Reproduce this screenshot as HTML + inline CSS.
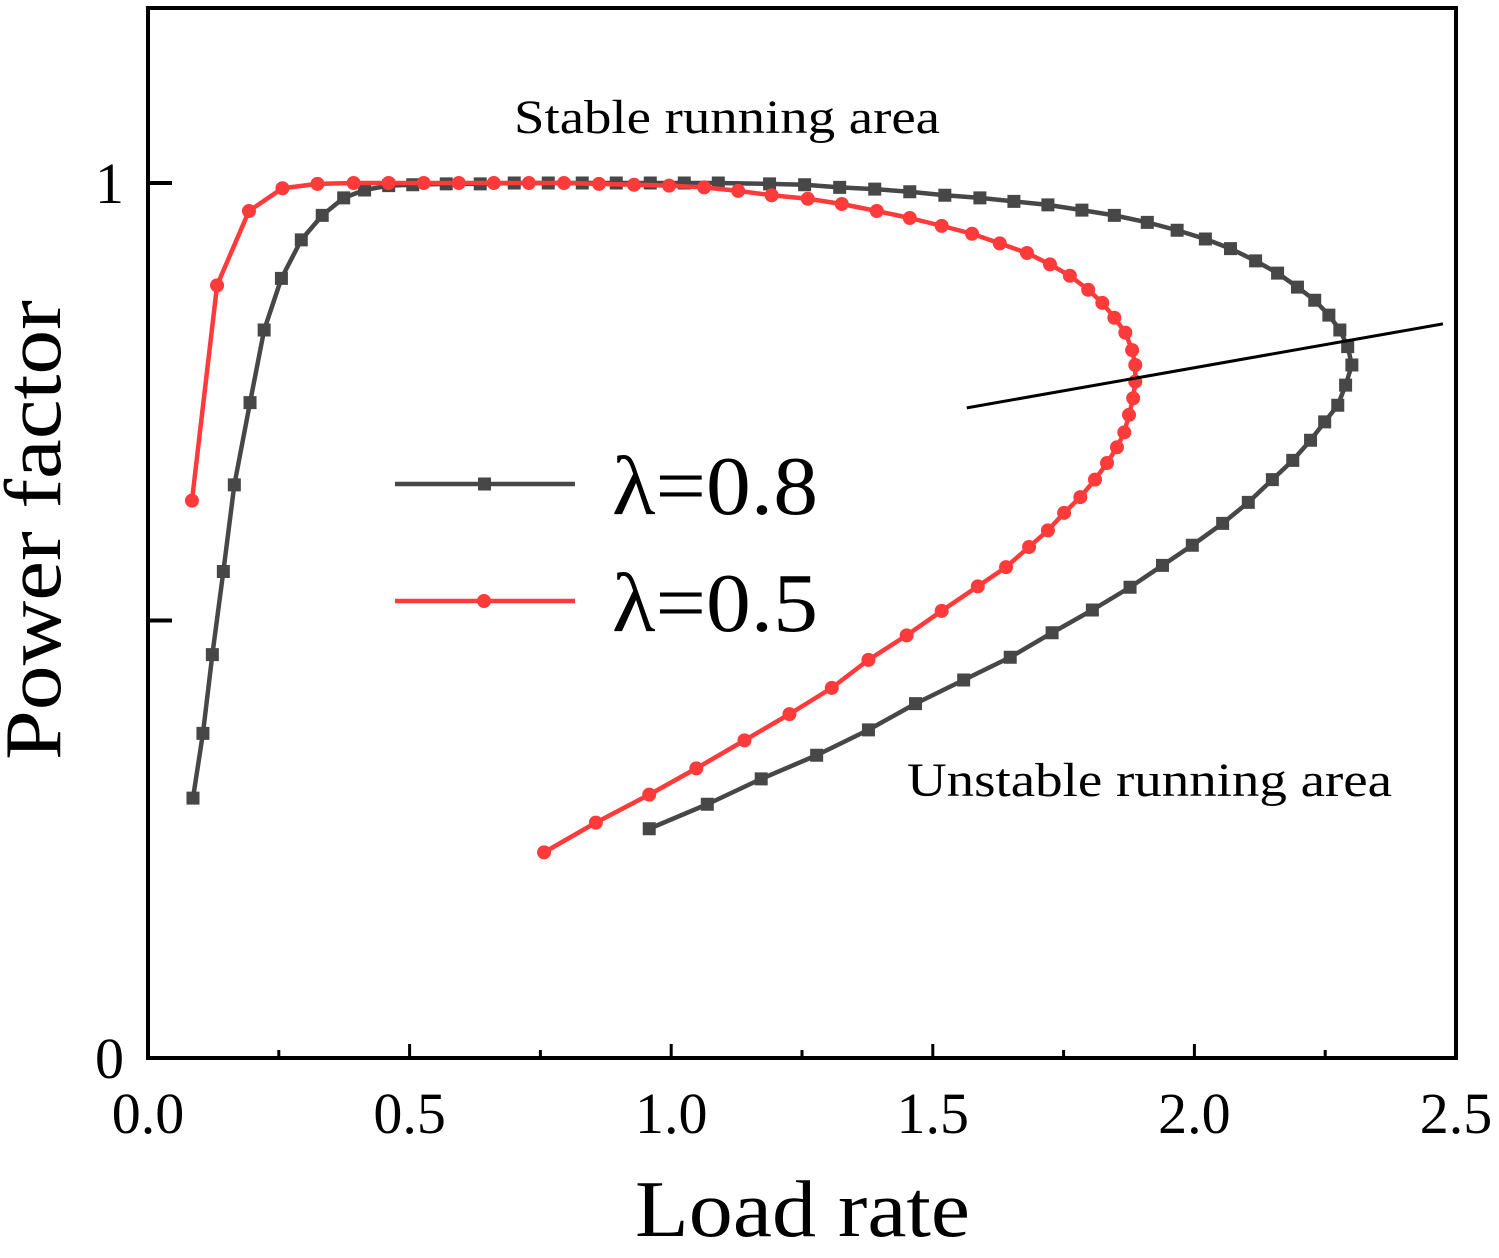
<!DOCTYPE html>
<html><head><meta charset="utf-8"><style>
html,body{margin:0;padding:0;background:#fff}
svg text{font-family:"Liberation Serif",serif}
</style></head><body>
<svg id="chart" width="1499" height="1253" viewBox="0 0 1499 1253" xmlns="http://www.w3.org/2000/svg">
<g id="plot"></g>
</svg>
<script>
const xTicks=[0,0.5,1.0,1.5,2.0,2.5];
const xTickLabels=["0.0","0.5","1.0","1.5","2.0","2.5"];
const xMinorTicks=[0.25,0.75,1.25,1.75,2.25];
const yTicks=[0,0.5,1];
const yTickLabels=["0","","1"];
const blackX=[0.086,0.105,0.123,0.144,0.165,0.195,0.222,0.255,0.293,0.333,0.374,0.414,0.460,0.506,0.570,0.635,0.700,0.765,0.830,0.895,0.960,1.025,1.090,1.188,1.255,1.322,1.389,1.456,1.523,1.590,1.655,1.720,1.785,1.847,1.910,1.967,2.021,2.069,2.117,2.159,2.197,2.230,2.257,2.278,2.293,2.301,2.289,2.274,2.249,2.222,2.188,2.149,2.103,2.054,1.996,1.939,1.877,1.805,1.728,1.648,1.559,1.467,1.377,1.278,1.172,1.069,0.958];
const blackY=[0.297,0.371,0.461,0.556,0.655,0.749,0.832,0.891,0.935,0.963,0.983,0.992,0.997,0.998,0.999,0.999,1.0,1.0,1.0,1.0,1.0,1.0,1.0,0.999,0.998,0.995,0.993,0.990,0.986,0.983,0.979,0.975,0.969,0.963,0.955,0.946,0.936,0.925,0.911,0.897,0.881,0.866,0.849,0.832,0.813,0.792,0.769,0.746,0.727,0.706,0.683,0.661,0.635,0.611,0.586,0.563,0.538,0.512,0.486,0.458,0.432,0.405,0.375,0.346,0.319,0.290,0.262];
const redX=[0.084,0.132,0.193,0.257,0.324,0.393,0.460,0.527,0.594,0.661,0.728,0.795,0.862,0.929,0.996,1.063,1.128,1.192,1.261,1.326,1.393,1.456,1.517,1.575,1.628,1.680,1.724,1.762,1.797,1.824,1.847,1.868,1.881,1.887,1.887,1.883,1.875,1.866,1.852,1.833,1.810,1.782,1.751,1.720,1.684,1.640,1.586,1.517,1.450,1.377,1.307,1.226,1.140,1.048,0.958,0.856,0.757];
const redY=[0.637,0.883,0.968,0.994,0.999,1.0,1.0,1.0,1.0,1.0,1.0,1.0,0.999,0.998,0.997,0.995,0.991,0.986,0.982,0.976,0.968,0.960,0.951,0.942,0.931,0.920,0.907,0.894,0.878,0.863,0.846,0.829,0.809,0.792,0.773,0.754,0.735,0.715,0.698,0.680,0.661,0.641,0.623,0.603,0.584,0.561,0.539,0.511,0.483,0.455,0.423,0.393,0.363,0.331,0.301,0.269,0.235];
const boundaryX=[1.565,2.475];
const boundaryY=[0.743,0.839];

const L=148,R=1456,T=8,B=1058;
function sx(v){return L+v*(R-L)/2.5;}
function sy(v){return B-v*(B-183);}
const NS="http://www.w3.org/2000/svg";
const svg=document.getElementById('chart');
function mk(tag,attrs,parent){const e=document.createElementNS(NS,tag);for(const k in attrs)e.setAttribute(k,attrs[k]);(parent||svg).appendChild(e);return e;}

const frame=mk('rect',{x:L,y:T,width:R-L,height:B-T,fill:'none',stroke:'#000','stroke-width':4});



xTicks.forEach((t,i)=>{
  const l=mk('line',{x1:sx(t),x2:sx(t),y1:B,y2:B-14,stroke:'#000','stroke-width':3});
  
  
  const tx=mk('text',{x:sx(t),y:1133,'font-size':58,'text-anchor':'middle'});
  tx.textContent=xTickLabels[i];
  
  
});
xMinorTicks.forEach(t=>{
  const l=mk('line',{x1:sx(t),x2:sx(t),y1:B,y2:B-8,stroke:'#000','stroke-width':3});
  
  
});
yTicks.forEach((t,i)=>{
  const l=mk('line',{x1:L,x2:L+24,y1:sy(t),y2:sy(t),stroke:'#000','stroke-width':4});
  
  
  if(yTickLabels[i]){
    const tx=mk('text',{x:124,y:sy(t)+20,'font-size':58,'text-anchor':'end'});
    tx.textContent=yTickLabels[i];
    
    
  }
});

function series(xs,ys,color,marker,name){
  const pts=xs.map((x,i)=>sx(x)+','+sy(ys[i])).join(' ');
  const pl=mk('polyline',{points:pts,fill:'none',stroke:color,'stroke-width':4.5,'stroke-linejoin':'round'});
  
  
  xs.forEach((x,i)=>{
    let m;
    if(marker==='sq') m=mk('rect',{x:sx(x)-6.5,y:sy(ys[i])-6.5,width:13,height:13,fill:color});
    else m=mk('circle',{cx:sx(x),cy:sy(ys[i]),r:7,fill:color});
    
    
  });
}
series(blackX,blackY,'#474747','sq','lambda-0.8');
series(redX,redY,'#ff3a3a','ci','lambda-0.5');

const bl=mk('line',{x1:sx(boundaryX[0]),y1:sy(boundaryY[0]),x2:sx(boundaryX[1]),y2:sy(boundaryY[1]),stroke:'#000','stroke-width':3});



[['#474747','sq','λ=0.8',484],['#ff3a3a','ci','λ=0.5',601]].forEach(([c,m,t,y])=>{
  const l=mk('line',{x1:395,x2:575,y1:y,y2:y,stroke:c,'stroke-width':4.5});
  
  
  let mm= m==='sq'?mk('rect',{x:478,y:y-6.5,width:13,height:13,fill:c}):mk('circle',{cx:484,cy:y,r:7,fill:c});
  
  
  const tx=mk('text',{x:612,y:y+30,'font-size':84,textLength:206,lengthAdjust:'spacingAndGlyphs'});
  tx.textContent=t;
  
  
});

function label(txt,x,y,size,name,extra){
  const tx=mk('text',Object.assign({x:x,y:y,'font-size':size},extra||{}));
  tx.textContent=txt;
  
  
}
label('Stable running area',514,133,48,'stable-area-label',{textLength:426,lengthAdjust:'spacingAndGlyphs'});
label('Unstable running area',907,796,48,'unstable-area-label',{textLength:485,lengthAdjust:'spacingAndGlyphs'});
label('Load rate',635,1236,80,'x-axis-title',{textLength:335,lengthAdjust:'spacingAndGlyphs'});
label('Power factor',60,760,80,'y-axis-title',{textLength:460,lengthAdjust:'spacingAndGlyphs',transform:'rotate(-90 60 760)'});
</script>
</body></html>
